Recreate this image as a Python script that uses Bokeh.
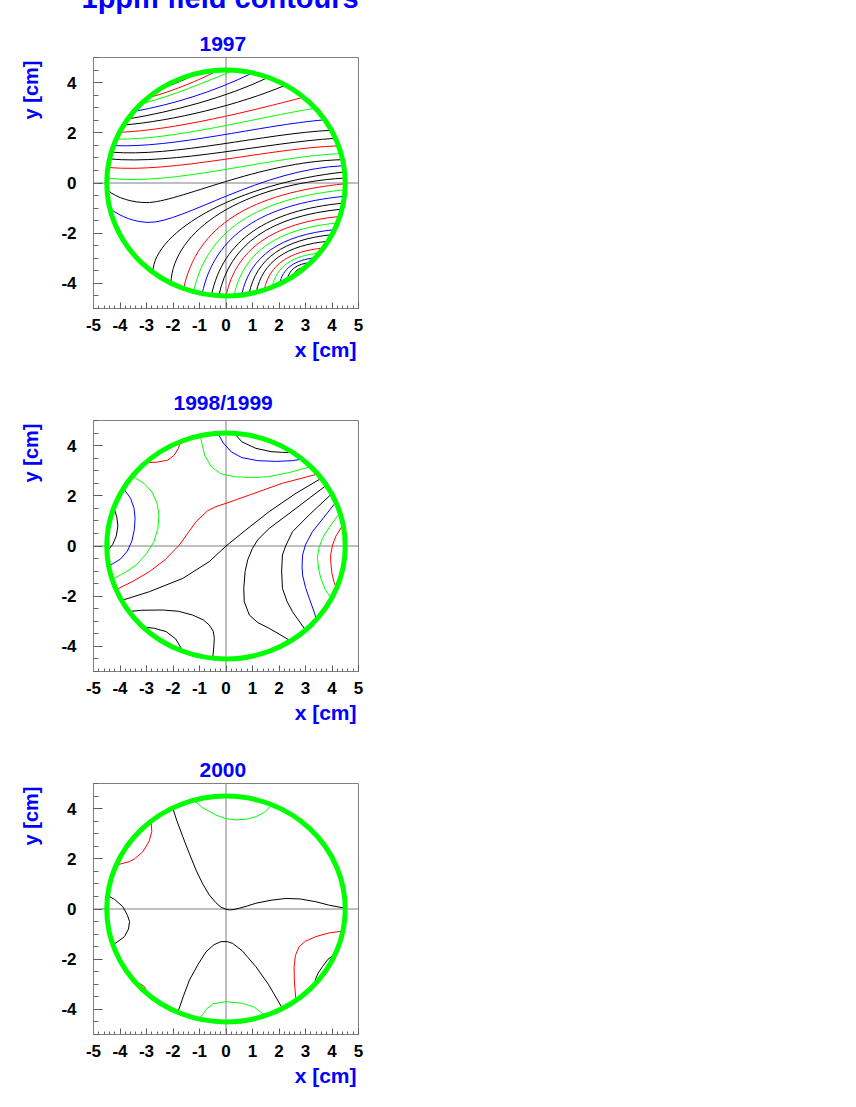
from bokeh.plotting import figure
from bokeh.models import (Range1d, FixedTicker, Span, ColumnDataSource, Title,
                          CustomJSTickFormatter)
from bokeh.layouts import column
from bokeh.embed import file_html
from bokeh.resources import INLINE

# ---------------- texts / axes ----------------
MAIN_TITLE = "1ppm field contours"
PANEL_TITLES = ["1997", "1998/1999", "2000"]
X_LABEL = "x [cm]"
Y_LABEL = "y [cm]"
X_TICKS = [-5, -4, -3, -2, -1, 0, 1, 2, 3, 4, 5]
Y_TICKS = [-4, -2, 0, 2, 4]
APERTURE_CENTER = (0.0, 0.0)
APERTURE_RADIUS = 4.5  # cm (green circle)

LEVEL_COLORS = {"K": "#000000", "R": "#ff0000", "G": "#00ff00", "B": "#0000ff"}

# ---------------- 1997: contour lines traced as cubic Bezier pieces ----------------
# (colour, x0, y0, cx0, cy0, cx1, cy1, x1, y1)
CONTOURS_1997 = [
    ("K", -2.52, 3.73, -2.0, 3.92, -1.5, 4.15, -1.0, 4.39),
    ("R", -2.96, 3.39, -2.0, 3.66, -1.0, 4.10, -0.30, 4.49),
    ("G", -3.20, 3.16, -2.0, 3.46, -0.8, 4.03, 0.31, 4.49),
    ("B", -3.48, 2.85, -2.0, 3.13, -0.5, 3.62, 1.01, 4.39),
    ("K", -3.70, 2.55, -2.0, 2.85, 0.0, 3.40, 1.60, 4.21),
    ("K", -3.87, 2.31, -2.0, 2.47, 0.5, 3.12, 2.25, 3.90),
    ("R", -4.02, 2.02, -2.0, 2.10, 1.0, 2.88, 2.93, 3.42),
    ("G", -4.15, 1.75, -2.0, 1.70, 1.2, 2.62, 3.37, 2.98),
    ("B", -4.24, 1.49, -2.0, 1.38, 1.3, 2.30, 3.73, 2.52),
    ("K", -4.33, 1.23, -2.0, 1.02, 1.5, 1.98, 3.98, 2.10),
    ("K", -4.40, 0.96, -2.0, 0.72, 1.6, 1.62, 4.13, 1.78),
    ("R", -4.46, 0.62, -2.0, 0.38, 1.7, 1.40, 4.25, 1.48),
    ("G", -4.50, 0.20, -2.0, -0.15, 1.8, 1.10, 4.35, 1.17),
    ("K", -4.49, -0.27, -4.1, -0.62, -3.5, -0.78, -3.0, -0.78),
    ("K", -3.0, -0.78, -1.8, -0.78, 1.2, 0.85, 4.40, 0.93),
    ("B", -4.39, -1.00, -4.0, -1.35, -3.4, -1.57, -2.9, -1.57),
    ("B", -2.9, -1.57, -1.6, -1.57, 1.3, 0.55, 4.45, 0.69),
    ("K", -2.76, -3.55, -2.72, -1.90, 0.5, 0.0, 4.48, 0.44),
    ("K", -2.08, -3.99, -2.0, -1.9, 0.6, -0.05, 4.50, 0.20),
    ("R", -1.60, -4.21, -1.10, -1.70, 0.96, -0.40, 4.50, -0.03),
    ("G", -1.22, -4.33, -0.73, -1.89, 1.18, -0.61, 4.49, -0.27),
    ("B", -0.90, -4.41, -0.43, -2.08, 1.36, -0.85, 4.47, -0.53),
    ("K", -0.55, -4.47, -0.11, -2.27, 1.54, -1.10, 4.43, -0.80),
    ("K", -0.27, -4.49, 0.14, -2.42, 1.68, -1.32, 4.38, -1.04),
    ("R", 0.0, -4.50, 0.38, -2.60, 1.81, -1.59, 4.30, -1.33),
    ("G", 0.30, -4.49, 0.65, -2.75, 1.94, -1.82, 4.21, -1.59),
    ("B", 0.59, -4.46, 0.90, -2.90, 2.06, -2.07, 4.10, -1.86),
    ("K", 0.87, -4.41, 1.15, -3.00, 2.18, -2.25, 4.00, -2.06),
    ("K", 1.14, -4.35, 1.38, -3.13, 2.28, -2.48, 3.86, -2.32),
    ("R", 1.44, -4.26, 1.64, -3.26, 2.38, -2.72, 3.68, -2.59),
    ("G", 1.74, -4.15, 1.90, -3.33, 2.49, -2.90, 3.53, -2.79),
    ("B", 2.02, -4.02, 2.14, -3.40, 2.59, -3.06, 3.37, -2.98),
    ("K", 2.30, -3.87, 2.38, -3.45, 2.67, -3.22, 3.19, -3.17),
    ("K", 2.55, -3.71, 2.59, -3.50, 2.73, -3.39, 2.99, -3.36),
]

# ---------------- 1998/1999: traced contour polylines ----------------
CONTOURS_1998 = [
    ("K", [(0.31, 4.49), (0.6, 4.15), (1.13, 3.89), (1.7, 3.76), (2.13, 3.73), (2.52, 3.73)]),
    ("B", [(-0.31, 4.49), (-0.1, 4.1), (0.2, 3.75), (0.6, 3.52), (1.2, 3.40), (1.9, 3.37),
           (2.5, 3.40), (2.88, 3.46)]),
    ("G", [(-0.97, 4.39), (-0.88, 3.95), (-0.80, 3.60), (-0.55, 3.15), (-0.2, 2.88), (0.3, 2.76),
           (1.0, 2.73), (1.6, 2.76), (2.4, 2.93), (3.20, 3.16)]),
    ("R", [(-3.04, 3.32), (-2.6, 3.34), (-2.2, 3.42), (-1.95, 3.62), (-1.80, 3.88), (-1.72, 4.16)]),
    ("R", [(-4.15, -1.74), (-3.5, -1.40), (-2.89, -1.02), (-2.3, -0.55), (-1.76, 0.04), (-1.13, 0.97),
           (-0.7, 1.40), (-0.38, 1.57), (0.0, 1.70), (0.88, 2.03), (2.13, 2.50), (3.47, 2.87)]),
    ("K", [(-3.94, -2.17), (-2.89, -1.82), (-1.63, -1.29), (-0.63, -0.62), (0.0, 0.0), (0.75, 0.64),
           (1.63, 1.37), (2.64, 2.10), (3.60, 2.70)]),
    ("K", [(3.79, 2.42), (3.2, 1.95), (2.64, 1.50), (1.63, 0.70), (1.2, 0.25), (1.00, -0.09),
           (0.82, -0.55), (0.72, -1.02), (0.67, -1.70), (0.69, -2.22), (0.88, -2.75), (1.2, -3.05),
           (1.63, -3.28), (2.44, -3.78)]),
    ("K", [(3.99, 2.08), (3.14, 1.24), (2.51, 0.57), (2.25, 0.0), (2.13, -0.36), (2.10, -1.0),
           (2.13, -1.69), (2.30, -2.2), (2.51, -2.62), (3.0, -3.35)]),
    ("B", [(4.15, 1.75), (3.7, 1.15), (3.26, 0.57), (3.0, 0.05), (2.89, -0.36), (2.87, -0.8),
           (2.89, -1.16), (3.0, -1.65), (3.14, -2.08), (3.30, -2.55), (3.42, -2.93)]),
    ("G", [(4.30, 1.33), (3.9, 0.75), (3.64, 0.31), (3.50, -0.10), (3.45, -0.49), (3.50, -0.95),
           (3.58, -1.29), (3.75, -1.75), (3.98, -2.10)]),
    ("R", [(4.42, 0.86), (4.15, 0.40), (4.02, 0.04), (3.95, -0.35), (3.95, -0.62), (4.0, -1.1),
           (4.08, -1.45), (4.17, -1.70)]),
    ("B", [(-3.87, 2.29), (-3.60, 1.90), (-3.47, 1.50), (-3.43, 1.10), (-3.46, 0.65), (-3.55, 0.20),
           (-3.72, -0.20), (-3.98, -0.52), (-4.42, -0.80)]),
    ("G", [(-3.54, 2.78), (-3.1, 2.5), (-2.80, 2.16), (-2.60, 1.7), (-2.53, 1.24), (-2.57, 0.7),
           (-2.72, 0.17), (-3.0, -0.3), (-3.39, -0.76), (-3.8, -1.05), (-4.30, -1.33)]),
    ("K", [(-4.23, 1.53), (-4.12, 1.15), (-4.08, 0.80), (-4.14, 0.40), (-4.28, 0.05), (-4.49, -0.2)]),
    ("K", [(-3.66, -2.61), (-3.2, -2.56), (-2.39, -2.55), (-1.8, -2.60), (-1.26, -2.75), (-0.85, -2.95),
           (-0.63, -3.15), (-0.48, -3.4), (-0.44, -3.68), (-0.46, -4.0), (-0.50, -4.47)]),
    ("K", [(-3.14, -3.22), (-2.7, -3.28), (-2.26, -3.41), (-1.9, -3.7), (-1.62, -4.2)]),
]

# ---------------- 2000: traced contour polylines ----------------
CONTOURS_2000 = [
    ("G", [(-1.22, 4.33), (-0.9, 4.05), (-0.38, 3.74), (0.0, 3.60), (0.38, 3.55), (0.8, 3.58),
           (1.13, 3.68), (1.45, 3.85), (1.73, 4.15)]),
    ("G", [(-1.0, -4.39), (-0.75, -4.0), (-0.50, -3.78), (0.0, -3.69), (0.63, -3.76), (1.05, -3.9),
           (1.48, -4.25)]),
    ("R", [(-2.83, 3.50), (-2.80, 3.1), (-2.9, 2.7), (-3.14, 2.28), (-3.45, 2.0), (-3.64, 1.89),
           (-4.10, 1.76)]),
    ("R", [(-3.43, -2.91), (-3.2, -3.0), (-3.08, -3.09), (-2.93, -3.41)]),
    ("R", [(4.41, -0.88), (3.9, -0.95), (3.39, -1.10), (3.0, -1.28), (2.76, -1.50), (2.62, -1.85),
           (2.57, -2.30), (2.58, -2.9), (2.64, -3.64)]),
    ("K", [(4.12, -1.80), (3.85, -2.0), (3.64, -2.30), (3.48, -2.55), (3.39, -2.76), (3.33, -3.02)]),
    ("K", [(-4.47, 0.54), (-4.2, 0.38), (-3.89, 0.09), (-3.72, -0.25), (-3.64, -0.50), (-3.68, -0.8),
           (-3.83, -1.10), (-4.28, -1.45)]),
    ("K", [(-2.01, 4.03), (-1.85, 3.5), (-1.63, 2.88), (-1.38, 2.2), (-1.13, 1.55), (-0.88, 1.0),
           (-0.63, 0.56), (-0.38, 0.25), (-0.19, 0.07), (0.0, -0.01), (0.13, -0.04), (0.30, -0.02),
           (0.50, 0.03), (0.80, 0.12), (1.13, 0.23), (1.7, 0.35), (2.26, 0.42), (2.8, 0.40),
           (3.39, 0.29), (3.9, 0.15), (4.50, 0.03)]),
    ("K", [(-1.82, -4.12), (-1.6, -3.45), (-1.38, -2.83), (-1.05, -2.2), (-0.75, -1.70), (-0.45, -1.42),
           (-0.19, -1.30), (0.05, -1.30), (0.25, -1.37), (0.6, -1.65), (1.13, -2.30), (1.6, -3.0),
           (2.13, -3.96)]),
]

FONT = "Liberation Sans"
TITLE_BLUE = "#0000ff"
FRAME_GRAY = "#7f7f7f"

FRAME_W, FRAME_H = 265, 251
TOP_SHIFT = 42          # extra top border of first panel, hidden above the page
X_MINOR = [round(-5 + 0.2 * i, 2) for i in range(51)]
Y_MINOR = [round(-5 + 0.5 * i, 2) for i in range(21)]
TITLE_LEFT = {"1997": 106, "1998/1999": 80, "2000": 106}   # px from frame left


def blue_title(text, size, align, valign, standoff, offset=0):
    return Title(text=text, align=align, vertical_align=valign, standoff=standoff, offset=offset,
                 text_font=FONT, text_font_style="bold", text_font_size=size,
                 text_color=TITLE_BLUE)


def make_panel(title, beziers=None, polylines=None, first=False):
    p = figure(frame_width=FRAME_W, frame_height=FRAME_H,
               min_border_left=92, min_border_right=12,
               min_border_top=(57 + TOP_SHIFT) if first else 51,
               min_border_bottom=61,
               x_range=Range1d(-5, 5), y_range=Range1d(-5, 5),
               toolbar_location=None, output_backend="svg")
    p.grid.visible = False
    p.outline_line_color = FRAME_GRAY
    p.outline_line_width = 1
    p.background_fill_color = "#ffffff"
    p.border_fill_color = "#ffffff"

    for ax, ticks, minor, tin, tmin, standoff in (
            (p.xaxis[0], X_TICKS, X_MINOR, 6, 3, 10),
            (p.yaxis[0], Y_TICKS, Y_MINOR, 9, 5, 17)):
        ax.ticker = FixedTicker(ticks=ticks, minor_ticks=minor)
        ax.formatter = CustomJSTickFormatter(code="return String(tick)")
        ax.major_tick_in = tin
        ax.major_tick_out = 0
        ax.minor_tick_in = tmin
        ax.minor_tick_out = 0
        ax.axis_line_color = FRAME_GRAY
        ax.major_tick_line_color = "#555555"
        ax.minor_tick_line_color = "#666666"
        ax.major_label_text_font = FONT
        ax.major_label_text_font_style = "bold"
        ax.major_label_text_font_size = "17px"
        ax.major_label_text_color = "#000000"
        ax.major_label_standoff = standoff

    # zero axes through the frame
    p.add_layout(Span(location=0, dimension="height", line_color=FRAME_GRAY, line_width=1, level="underlay"))
    p.add_layout(Span(location=0, dimension="width", line_color=FRAME_GRAY, line_width=1, level="underlay"))

    if beziers:
        src = ColumnDataSource(dict(
            x0=[b[1] for b in beziers], y0=[b[2] for b in beziers],
            cx0=[b[3] for b in beziers], cy0=[b[4] for b in beziers],
            cx1=[b[5] for b in beziers], cy1=[b[6] for b in beziers],
            x1=[b[7] for b in beziers], y1=[b[8] for b in beziers],
            color=[LEVEL_COLORS[b[0]] for b in beziers]))
        p.bezier(x0="x0", y0="y0", x1="x1", y1="y1", cx0="cx0", cy0="cy0",
                 cx1="cx1", cy1="cy1", line_color="color", line_width=1, source=src)
    if polylines:
        src = ColumnDataSource(dict(
            xs=[[pt[0] for pt in pts] for _, pts in polylines],
            ys=[[pt[1] for pt in pts] for _, pts in polylines],
            color=[LEVEL_COLORS[c] for c, _ in polylines]))
        p.multi_line(xs="xs", ys="ys", line_color="color", line_width=1, source=src)

    # magnet aperture
    p.ellipse(x=[APERTURE_CENTER[0]], y=[APERTURE_CENTER[1]],
              width=[2 * APERTURE_RADIUS], height=[2 * APERTURE_RADIUS],
              fill_color=None, line_color="#00ff00", line_width=5)

    # texts in the side panels
    p.add_layout(blue_title(title, "21px", "left", "bottom", 14, offset=TITLE_LEFT[title]), "above")
    if first:
        p.add_layout(blue_title(MAIN_TITLE, "29px", "left", "bottom", 27, offset=-12), "above")
    p.add_layout(blue_title(X_LABEL, "21px", "right", "top", 8, offset=2), "below")
    p.add_layout(blue_title(Y_LABEL, "20px", "right", "bottom", 34, offset=3), "left")
    return p


p1 = make_panel(PANEL_TITLES[0], beziers=CONTOURS_1997, first=True)
p2 = make_panel(PANEL_TITLES[1], polylines=CONTOURS_1998)
p3 = make_panel(PANEL_TITLES[2], polylines=CONTOURS_2000)

layout = column(p1, p2, p3, spacing=0, styles={"margin-top": "-%dpx" % TOP_SHIFT})

open("out.html", "w").write(file_html(layout, INLINE))
